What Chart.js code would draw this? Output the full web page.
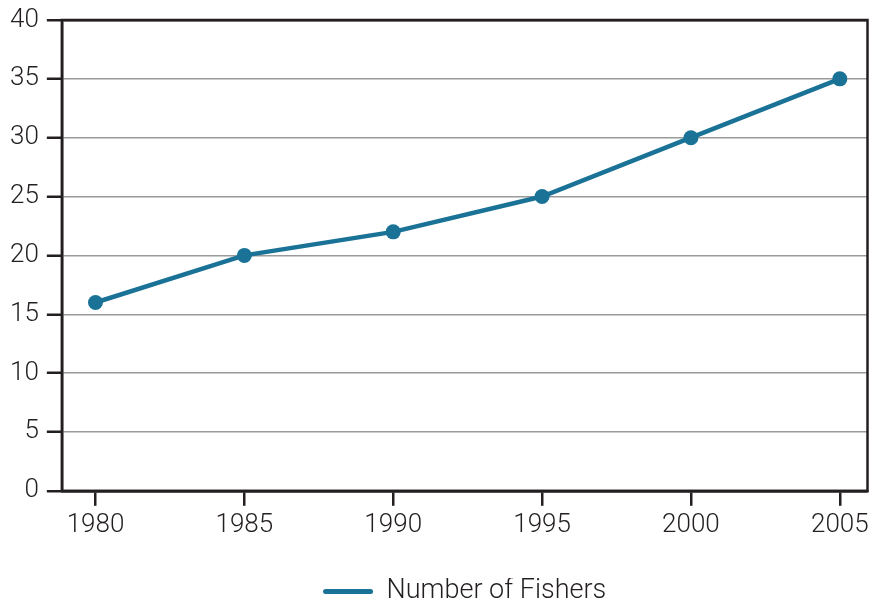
<!DOCTYPE html>
<html>
<head>
<meta charset="utf-8">
<script src="https://cdn.jsdelivr.net/npm/chart.js@4/dist/chart.umd.min.js"></script>
<style>
html,body{margin:0;padding:0;background:#fff;}
#wrap{width:875px;height:603px;}
</style>
</head>
<body>
<div id="wrap"><canvas id="c" width="875" height="603"></canvas></div>
<script>
const years = [1980, 1985, 1990, 1995, 2000, 2005];
const fishers = [16, 20, 22, 25, 30, 35];
const yTicks = [0, 5, 10, 15, 20, 25, 30, 35, 40];
const seriesLabel = 'Number of Fishers';

const LINE = '#1a7397';
const DARK = '#231f20';
const GRID = '#9a9a9a';
const FONT = {family: 'Roboto, "Liberation Sans", sans-serif', size: 26, weight: 300};
const LFONT = {family: 'Roboto, "Liberation Sans", sans-serif', size: 27, weight: 300};

const boxPlugin = {
  id: 'box',
  beforeDatasetsDraw(chart) {
    const a = chart.chartArea, ctx = chart.ctx;
    ctx.save();
    ctx.strokeStyle = DARK;
    ctx.lineWidth = 2.5;
    ctx.strokeRect(a.left, a.top, a.right - a.left, a.bottom - a.top);
    ctx.restore();
  }
};

new Chart(document.getElementById('c'), {
  type: 'line',
  data: {
    datasets: [{
      label: seriesLabel,
      data: years.map((y, i) => ({x: y, y: fishers[i]})),
      borderColor: LINE,
      backgroundColor: LINE,
      borderWidth: 4.5,
      pointRadius: 7.5,
      pointHoverRadius: 7.5,
      pointBackgroundColor: LINE,
      pointBorderWidth: 0,
      tension: 0
    }]
  },
  options: {
    responsive: false,
    animation: false,
    layout: {padding: {left: 2, right: -2, top: 20, bottom: -12}},
    plugins: {
      tooltip: {enabled: false},
      legend: {
        position: 'bottom',
        fullSize: false,
        labels: {
          color: DARK,
          font: LFONT,
          boxWidth: 50,
          boxHeight: 5,
          padding: 0,
          useBorderRadius: true,
          borderRadius: 2.5,
          generateLabels(chart) {
            return [{
              text: seriesLabel,
              fillStyle: LINE,
              strokeStyle: LINE,
              lineWidth: 0,
              fontColor: DARK,
              datasetIndex: 0,
              borderRadius: 2.5
            }];
          }
        }
      }
    },
    scales: {
      x: {
        type: 'linear',
        min: 1978.87,
        max: 2005.93,
        afterBuildTicks(axis) { axis.ticks = years.map(v => ({value: v})); },
        afterFit(axis) { axis.height += 33; axis.paddingRight = 0; axis.paddingLeft = 0; },
        ticks: {color: DARK, font: FONT, padding: 4, callback: v => String(v), maxRotation: 0},
        grid: {drawOnChartArea: false, color: DARK, tickColor: DARK, tickLength: 15, lineWidth: 2.5},
        border: {display: true, color: DARK, width: 2.5}
      },
      y: {
        type: 'linear',
        min: 0,
        max: 40,
        afterBuildTicks(axis) { axis.ticks = yTicks.map(v => ({value: v})); },
        afterFit(axis) { axis.paddingTop = 0; axis.paddingBottom = 0; },
        ticks: {color: DARK, font: FONT, padding: 8},
        grid: {
          color: ctx => (ctx.tick && (ctx.tick.value === 0 || ctx.tick.value === 40)) ? DARK : GRID,
          lineWidth: ctx => (ctx.tick && (ctx.tick.value === 0 || ctx.tick.value === 40)) ? 2.5 : 1.5,
          tickColor: DARK,
          tickLength: 15,
          tickWidth: 2.5
        },
        border: {display: true, color: DARK, width: 2.5}
      }
    }
  },
  plugins: [boxPlugin]
});
</script>
</body>
</html>
